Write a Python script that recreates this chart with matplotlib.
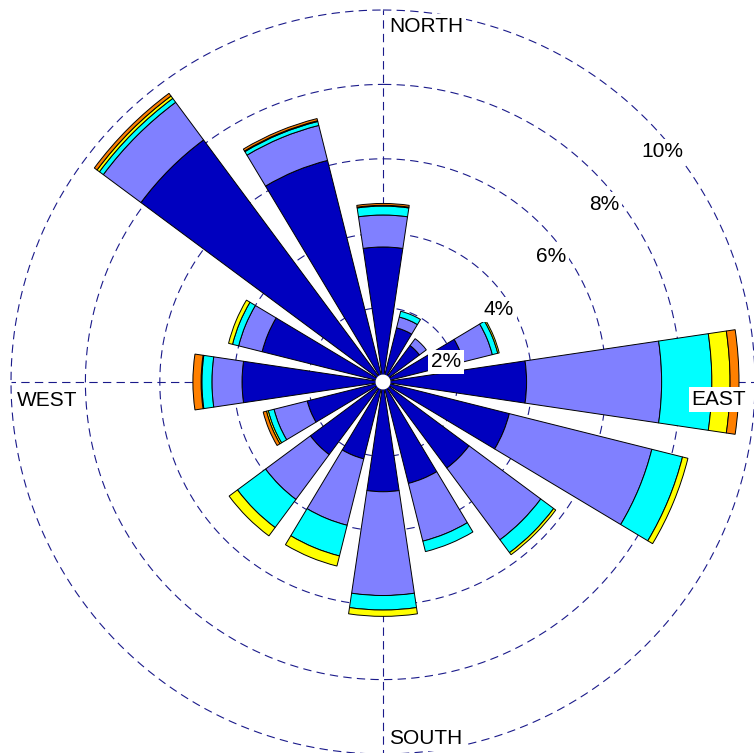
import numpy as np
import matplotlib
matplotlib.use('Agg')
import matplotlib.pyplot as plt
from matplotlib.transforms import offset_copy

plt.rcParams['font.family'] = ['Liberation Sans', 'DejaVu Sans']
plt.rcParams['lines.scale_dashes'] = False

# ---- data (percent frequency per direction and speed bin) ----
directions = ['N', 'NNE', 'NE', 'ENE', 'E', 'ESE', 'SE', 'SSE',
              'S', 'SSW', 'SW', 'WSW', 'W', 'WNW', 'NW', 'NNW']
direction_deg = [0, 22.5, 45, 67.5, 90, 112.5, 135, 157.5,
                 180, 202.5, 225, 247.5, 270, 292.5, 315, 337.5]
bin1 = [3.63, 1.50, 1.22, 2.23, 3.86, 3.50, 2.88, 2.81, 2.95, 2.13, 2.43, 2.10, 3.79, 3.35, 8.10, 6.14]
bin2 = [0.86, 0.30, 0.23, 0.80, 3.63, 3.95, 2.40, 1.60, 2.79, 1.84, 1.50, 0.92, 0.81, 0.65, 1.26, 0.97]
bin3 = [0.24, 0.16, 0.00, 0.15, 1.35, 0.85, 0.43, 0.29, 0.39, 0.85, 0.94, 0.16, 0.27, 0.17, 0.13, 0.11]
bin4 = [0.02, 0.00, 0.00, 0.04, 0.49, 0.15, 0.07, 0.00, 0.17, 0.28, 0.28, 0.05, 0.02, 0.11, 0.08, 0.02]
bin5 = [0.05, 0.00, 0.00, 0.00, 0.24, 0.00, 0.00, 0.00, 0.00, 0.00, 0.00, 0.09, 0.22, 0.00, 0.09, 0.06]
bin_colors = ['#0000BF', '#8080FF', '#00FFFF', '#FFFF00', '#FF8000']
ring_values = [2, 4, 6, 8, 10]
ring_labels = ['2%', '4%', '6%', '8%', '10%']
cardinal_labels = ['NORTH', 'EAST', 'SOUTH', 'WEST']

# ---- figure ----
W, H = 754, 753
fig = plt.figure(figsize=(W / 100, H / 100), dpi=100)
cx, cy, R = 383, 382, 372
ax = fig.add_axes([(cx - R) / W, (H - cy - R) / H, 2 * R / W, 2 * R / H], projection='polar')
ax.set_theta_zero_location('N')
ax.set_theta_direction(-1)
ax.set_ylim(0, ring_values[-1])
ax.grid(False)
ax.set_xticks([])
ax.set_yticks([])
ax.spines['polar'].set_visible(False)
ax.patch.set_visible(False)

grid_color = '#1A1A8A'
dash = (6, 3.8)

# rings
tt = np.linspace(0, 2 * np.pi, 721)
for r in ring_values:
    ax.plot(tt, np.full_like(tt, r), color=grid_color, lw=0.8, dashes=dash,
            zorder=1, clip_on=False)
# axis lines
for th in [0, np.pi / 2, np.pi, 3 * np.pi / 2]:
    ax.plot([th, th], [0, ring_values[-1]], color=grid_color, lw=0.8, dashes=dash,
            zorder=1, clip_on=False)

# stacked bars
theta = np.deg2rad(direction_deg)
width = np.deg2rad(16.9)
bottom = np.zeros(len(theta))
for vals, c in zip([bin1, bin2, bin3, bin4, bin5], bin_colors):
    vals = np.array(vals)
    m = vals > 0
    ax.bar(theta[m], vals[m], width=width, bottom=bottom[m], color=c,
           edgecolor='black', linewidth=0.7, zorder=3)
    bottom += vals

# center hole
ax.bar(0, 0.2, width=2 * np.pi, bottom=0, color='white', edgecolor='none', zorder=4)

# ring labels
for v, lab in zip(ring_values, ring_labels):
    tr = offset_copy(ax.transData, fig=fig, x=-4.6, y=-32.6, units='dots')
    ax.text(np.pi / 4, v, lab, transform=tr, ha='left', va='center', fontsize=15,
            bbox=dict(facecolor='white', edgecolor='none', pad=2), zorder=6)

# cardinal labels
rmax = ring_values[-1]
specs = [  # angle, dx, dy, ha
    (0, 6, -16.7, 'left'),
    (np.pi / 2, -9, -17.5, 'right'),
    (np.pi, 6, 15, 'left'),
    (3 * np.pi / 2, 6, -18, 'left'),
]
for lab, (ang, dx, dy, ha) in zip(cardinal_labels, specs):
    tr = offset_copy(ax.transData, fig=fig, x=dx, y=dy, units='dots')
    ax.text(ang, rmax, lab, transform=tr, ha=ha, va='center', fontsize=15,
            bbox=dict(facecolor='white', edgecolor='none', pad=2), zorder=6)

fig.savefig('out.png', dpi=100)
